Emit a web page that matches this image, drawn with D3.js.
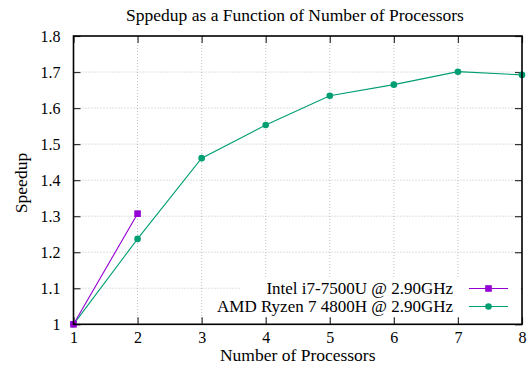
<!DOCTYPE html>
<html>
<head>
<meta charset="utf-8">
<script src="https://cdn.jsdelivr.net/npm/d3@7"></script>
<style>
  html, body { margin: 0; padding: 0; background: #fff; }
  svg { display: block; }
  text { font-family: "Liberation Serif", "DejaVu Serif", serif; fill: #000; }
</style>
</head>
<body>
<svg id="chart" width="528" height="372"></svg>
<script>
// Speedup measurements per processor count
const processors = [1, 2, 3, 4, 5, 6, 7, 8];
const intelProcs = [1, 2];
const intelSpeedup = [1.0, 1.307];
const amdProcs = [1, 2, 3, 4, 5, 6, 7, 8];
const amdSpeedup = [1.0, 1.237, 1.461, 1.553, 1.634, 1.665, 1.701, 1.692];
const yTicks = [1, 1.1, 1.2, 1.3, 1.4, 1.5, 1.6, 1.7, 1.8];
const seriesNames = ["Intel i7-7500U @ 2.90GHz", "AMD Ryzen 7 4800H @ 2.90GHz"];
const seriesColors = ["#9400d3", "#009e73"];

const svg = d3.select("#chart");
const plotL = 73.5, plotR = 522, plotT = 36, plotB = 324.3;

const x = d3.scaleLinear().domain([1, 8]).range([plotL, plotR]);
const y = d3.scaleLinear().domain([1, 1.8]).range([plotB, plotT]);

// Dotted grid
const grid = svg.append("g").attr("stroke", "#b0b0b0").attr("stroke-width", 0.8)
  .attr("stroke-dasharray", "1,2");
grid.selectAll(".gx").data(processors.slice(1, -1)).enter().append("line")
  .attr("x1", d => x(d)).attr("x2", d => x(d)).attr("y1", plotT).attr("y2", plotB);
grid.selectAll(".gy").data(yTicks.slice(1, -1)).enter().append("line")
  .attr("y1", d => y(d)).attr("y2", d => y(d)).attr("x1", plotL).attr("x2", plotR);

// Axes with inward ticks, mirrored on top and right
const tickLen = 7;
const fmtY = d => (d === 1 ? "1" : d3.format(".1f")(d));
const axB = svg.append("g").attr("transform", `translate(0,${plotB})`)
  .call(d3.axisBottom(x).tickValues(processors).tickSizeInner(-tickLen).tickSizeOuter(0).tickPadding(7).tickFormat(d3.format("d")));
const axL = svg.append("g").attr("transform", `translate(${plotL},0)`)
  .call(d3.axisLeft(y).tickValues(yTicks).tickSizeInner(-tickLen).tickSizeOuter(0).tickPadding(13).tickFormat(fmtY));
const axT = svg.append("g").attr("transform", `translate(0,${plotT})`)
  .call(d3.axisTop(x).tickValues(processors).tickSizeInner(-tickLen).tickSizeOuter(0).tickFormat(""));
const axR = svg.append("g").attr("transform", `translate(${plotR},0)`)
  .call(d3.axisRight(y).tickValues(yTicks).tickSizeInner(-tickLen).tickSizeOuter(0).tickFormat(""));
[axB, axL, axT, axR].forEach(a => {
  a.select(".domain").remove();
  a.selectAll(".tick line").attr("stroke", "#333").attr("stroke-width", 1.2);
  a.selectAll(".tick text").style("font-size", "16px").style("font-family", "'Liberation Serif', serif");
});

// Key box (opaque)
const keyBox = { x0: 240, y0: 278, x1: plotR - 1, y1: 317 };
svg.append("rect").attr("x", keyBox.x0).attr("y", keyBox.y0)
  .attr("width", keyBox.x1 - keyBox.x0).attr("height", keyBox.y1 - keyBox.y0)
  .attr("fill", "#fff");

// Series lines and points
const line = d3.line().x(d => x(d[0])).y(d => y(d[1]));
const intelData = intelProcs.map((p, i) => [p, intelSpeedup[i]]);
const amdData = amdProcs.map((p, i) => [p, amdSpeedup[i]]);

svg.append("path").datum(amdData).attr("d", line).attr("fill", "none")
  .attr("stroke", seriesColors[1]).attr("stroke-width", 1.1);
svg.append("path").datum(intelData).attr("d", line).attr("fill", "none")
  .attr("stroke", seriesColors[0]).attr("stroke-width", 1.1);

svg.selectAll(".amdPt").data(amdData).enter().append("circle")
  .attr("cx", d => x(d[0])).attr("cy", d => y(d[1])).attr("r", 3.3).attr("fill", seriesColors[1]);
svg.selectAll(".intelPt").data(intelData).enter().append("rect")
  .attr("x", d => x(d[0]) - 3.3).attr("y", d => y(d[1]) - 3.3)
  .attr("width", 6.6).attr("height", 6.6).attr("fill", seriesColors[0]);

// Frame
svg.append("rect").attr("x", plotL).attr("y", plotT).attr("width", plotR - plotL).attr("height", plotB - plotT)
  .attr("fill", "none").attr("stroke", "#000").attr("stroke-width", 1.6);

// Key entries
const keyRows = [288.5, 306.5];
seriesNames.forEach((name, i) => {
  const cy = keyRows[i];
  svg.append("text").attr("x", 453).attr("y", cy + 5.5).attr("text-anchor", "end")
    .style("font-size", "17px").text(name);
  svg.append("line").attr("x1", 469).attr("x2", 508).attr("y1", cy).attr("y2", cy)
    .attr("stroke", seriesColors[i]).attr("stroke-width", 1.1);
  if (i === 0) {
    svg.append("rect").attr("x", 488.5 - 3.3).attr("y", cy - 3.3).attr("width", 6.6).attr("height", 6.6)
      .attr("fill", seriesColors[i]);
  } else {
    svg.append("circle").attr("cx", 488.5).attr("cy", cy).attr("r", 3.3).attr("fill", seriesColors[i]);
  }
});

// Titles
svg.append("text").attr("x", 295).attr("y", 21).attr("text-anchor", "middle")
  .style("font-size", "17.5px").text("Sppedup as a Function of Number of Processors");
svg.append("text").attr("x", (plotL + plotR) / 2).attr("y", 361).attr("text-anchor", "middle")
  .style("font-size", "17.5px").text("Number of Processors");
svg.append("text").attr("transform", `translate(27,${183}) rotate(-90)`)
  .attr("text-anchor", "middle").style("font-size", "17.5px").text("Speedup");
</script>
</body>
</html>
